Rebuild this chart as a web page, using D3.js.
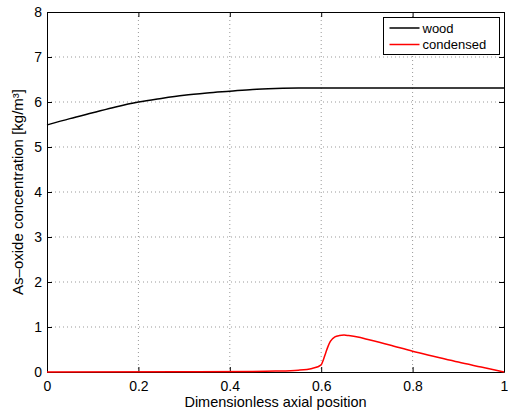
<!DOCTYPE html>
<html>
<head>
<meta charset="utf-8">
<script src="https://cdn.jsdelivr.net/npm/d3@7"></script>
<style>
  body { margin: 0; background: #fff; }
  svg { font-family: "Liberation Sans", Arial, Helvetica, sans-serif; }
</style>
</head>
<body>
<svg id="chart" width="508" height="412"></svg>
<script>
// data
const woodX = [0, 0.05, 0.1, 0.15, 0.2, 0.25, 0.3, 0.35, 0.4, 0.45, 0.5, 0.55, 0.6, 1];
const woodY = [5.49, 5.63, 5.76, 5.89, 6.0, 6.08, 6.15, 6.2, 6.24, 6.28, 6.3, 6.31, 6.31, 6.31];

const condX = [0, 0.3, 0.45, 0.5, 0.55, 0.58, 0.6, 0.605, 0.61, 0.615, 0.62, 0.63, 0.64, 0.65, 0.66, 0.68, 0.7, 0.75, 0.8, 0.85, 0.9, 0.95, 1.0];
const condY = [0, 0.005, 0.012, 0.02, 0.04, 0.08, 0.16, 0.28, 0.43, 0.57, 0.68, 0.78, 0.81, 0.82, 0.81, 0.78, 0.73, 0.6, 0.46, 0.34, 0.22, 0.11, 0];

const xTicks = [0, 0.2, 0.4, 0.6, 0.8, 1];
const yTicks = [0, 1, 2, 3, 4, 5, 6, 7, 8];
const seriesNames = ['wood', 'condensed'];
const seriesColors = ['#000000', '#ff0000'];

const margin = { top: 12, right: 4, bottom: 40, left: 47 };
const width = 508, height = 412;
const w = width - margin.left - margin.right;
const h = height - margin.top - margin.bottom;

const x = d3.scaleLinear().domain([0, 1]).range([0, w]);
const y = d3.scaleLinear().domain([0, 8]).range([h, 0]);

const svg = d3.select('#chart');
const g = svg.append('g').attr('transform', `translate(${margin.left},${margin.top})`);

// grid
g.selectAll('.vgrid').data(xTicks.slice(1, -1)).enter().append('line')
  .attr('x1', d => x(d)).attr('x2', d => x(d)).attr('y1', 0).attr('y2', h)
  .attr('stroke', '#999').attr('stroke-width', 1).attr('stroke-dasharray', '1,3');
g.selectAll('.hgrid').data(yTicks.slice(1, -1)).enter().append('line')
  .attr('y1', d => y(d)).attr('y2', d => y(d)).attr('x1', 0).attr('x2', w)
  .attr('stroke', '#999').attr('stroke-width', 1).attr('stroke-dasharray', '1,3');

// axes (ticks inside, box all round)
const tk = 5;
g.append('g').attr('transform', `translate(0,${h})`)
  .call(d3.axisBottom(x).tickValues(xTicks).tickFormat(d3.format('')).tickSizeInner(-tk).tickSizeOuter(0).tickPadding(9));
g.append('g')
  .call(d3.axisLeft(y).tickValues(yTicks).tickSizeInner(-tk).tickSizeOuter(0).tickPadding(5));
g.append('g').call(d3.axisTop(x).tickValues(xTicks).tickFormat('').tickSizeInner(-tk).tickSizeOuter(0));
g.append('g').attr('transform', `translate(${w},0)`)
  .call(d3.axisRight(y).tickValues(yTicks).tickFormat('').tickSizeInner(-tk).tickSizeOuter(0));

g.selectAll('.domain').attr('stroke', '#000').attr('stroke-width', 1);
g.selectAll('.tick line').attr('stroke', '#000');
g.selectAll('.tick text').attr('font-size', 14).attr('fill', '#000')
  .attr('font-family', '"Liberation Sans", Arial, sans-serif');

// curves
const line = d3.line().x(d => x(d[0])).y(d => y(d[1])).curve(d3.curveMonotoneX);
const woodData = woodX.map((v, i) => [v, woodY[i]]);
const condData = condX.map((v, i) => [v, condY[i]]);

g.append('path').datum(woodData).attr('d', line)
  .attr('fill', 'none').attr('stroke', seriesColors[0]).attr('stroke-width', 1.5);
g.append('path').datum(condData).attr('d', line)
  .attr('fill', 'none').attr('stroke', seriesColors[1]).attr('stroke-width', 1.5);

// legend
const lg = svg.append('g').attr('transform', 'translate(383.5,17.5)');
lg.append('rect').attr('width', 116).attr('height', 37)
  .attr('fill', '#fff').attr('stroke', '#000').attr('stroke-width', 1);
seriesNames.forEach((name, i) => {
  const ly = 10.5 + i * 16.5;
  lg.append('line').attr('x1', 6).attr('x2', 36).attr('y1', ly).attr('y2', ly)
    .attr('stroke', seriesColors[i]).attr('stroke-width', 1.5);
  lg.append('text').attr('x', 39).attr('y', ly + 4.5)
    .attr('font-size', 13).attr('fill', '#000').text(name);
});

// axis labels
svg.append('text')
  .attr('x', margin.left + w / 2).attr('y', 407)
  .attr('text-anchor', 'middle').attr('font-size', 14.5).attr('fill', '#000')
  .text('Dimensionless axial position');

svg.append('text')
  .attr('transform', `translate(23,${margin.top + h / 2}) rotate(-90)`)
  .attr('text-anchor', 'middle').attr('font-size', 15).attr('fill', '#000')
  .text('As–oxide concentration [kg/m³]');
</script>
</body>
</html>
